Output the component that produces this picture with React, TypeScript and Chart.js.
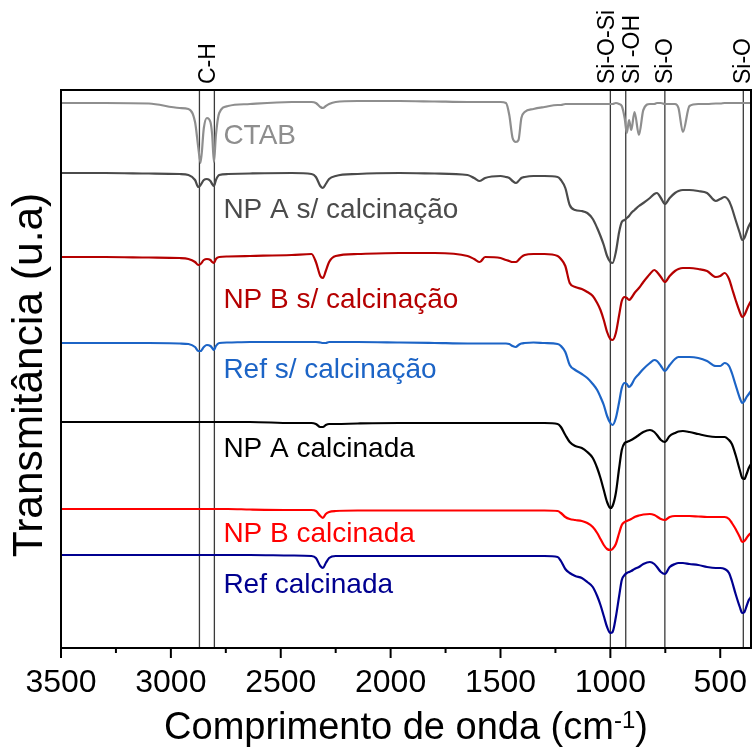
import { useEffect, useRef } from 'react';
import { Chart, registerables } from 'chart.js';
Chart.register(...registerables);

const FONT = '"Liberation Sans", Arial, sans-serif';

const wavenumbers = [3500, 3300, 3100, 2960, 2920, 2890, 2875, 2865, 2850, 2836, 2820, 2812, 2804, 2795, 2780, 2740, 2640, 2450, 2360, 2340, 2320, 2308, 2295, 2280, 2250, 2150, 1960, 1800, 1650, 1620, 1594, 1570, 1500, 1475, 1460, 1445, 1430, 1418, 1405, 1390, 1350, 1300, 1240, 1225, 1205, 1185, 1160, 1130, 1105, 1080, 1060, 1045, 1030, 1015, 1000, 990, 975, 960, 948, 935, 925, 915, 905, 890, 870, 850, 820, 800, 788, 770, 752, 730, 706, 690, 670, 640, 600, 560, 520, 500, 480, 460, 447, 430, 411, 400, 390, 380, 370, 360];

const ctab = [545, 545, 544.5, 540, 539, 526, 500, 485, 520, 530, 526, 513, 486, 513, 535, 542, 544, 546, 546, 545, 541, 540, 542, 544, 546, 547, 547, 546.5, 546, 546, 546, 546, 546, 545, 533, 510, 506, 508, 530, 536, 539, 541, 543, 543, 544, 544, 544, 544, 544, 544, 544, 544, 544, 544, 544, 544, 545, 544, 542, 530, 515, 528, 518, 536, 513, 538, 544, 544, 545, 545, 544, 544, 544, 540, 516, 542, 544, 544, 544.5, 544.5, 545, 545, 545, 545, 545, 545, 545, 545, 545, 545];
const npASemCalc = [475, 475, 474.5, 474, 473, 468, 461, 463, 468, 469, 467, 464, 462, 468, 473, 474, 474.5, 475, 474, 471, 462, 460, 464, 469, 472, 474, 475, 474.5, 473, 470, 467, 470, 472, 471, 470, 467, 465, 467, 470, 471, 472, 472, 471, 468, 460, 443, 438, 437, 435, 429, 420, 412, 403, 392, 386, 385, 396, 416, 426, 428, 430, 432, 435, 438, 442, 445, 450, 454, 455, 450, 444, 450, 455, 457, 458, 458, 457, 455, 447, 449, 451, 447, 440, 428, 415, 408, 410, 416, 422, 426];
const npBSemCalc = [391, 391, 390.5, 390, 389, 386, 383, 384, 388, 389, 388, 386, 385, 389, 391, 391.5, 392, 393, 394, 386, 372, 370, 377, 386, 392, 394, 395, 395, 392, 389, 386, 391, 390, 388, 387, 386, 386, 388, 391, 393, 394, 394, 392, 389, 382, 365, 361, 359, 356, 352, 345, 338, 328, 316, 309, 308, 315, 333, 347, 351, 350, 348, 350, 355, 360, 366, 374, 378, 376, 371, 366, 372, 377, 379, 380, 380, 379, 377, 371, 372, 375, 369, 360, 348, 336, 331, 333, 338, 343, 347];
const refSemCalc = [305, 305, 305, 304.5, 304, 301, 297, 297, 301, 303, 302, 300, 298, 302, 305, 305.5, 306, 306, 306, 306, 305.5, 305, 305, 306, 306, 306, 305.5, 305, 304.5, 304.5, 304.5, 304.5, 304.5, 304.5, 304, 302, 301, 303, 304.5, 305, 305.5, 305, 304, 302, 296, 283, 278, 274, 270, 264, 258, 251, 243, 232, 225, 223, 230, 246, 260, 265, 264, 261, 263, 269, 274, 279, 285, 288, 287, 282, 277, 283, 289, 291, 291, 291, 290, 287, 282, 282, 285, 282, 275, 263, 250, 245, 247, 251, 254, 257];
const npACalc = [226, 226, 226, 226, 226, 226, 226, 226, 226, 226, 226, 226, 226, 226, 226, 226, 226, 225, 225, 224, 221, 221, 223, 224, 224, 224.5, 225, 225, 225, 225, 225, 225, 225, 225, 225, 225, 225, 225, 225, 225, 225, 225, 224, 221, 213, 206, 202, 200, 196, 190, 180, 170, 158, 146, 140, 142, 155, 180, 198, 205, 206, 207, 208, 210, 213, 216, 218, 216, 213, 208, 206, 212, 215, 216.5, 217, 216, 214, 212, 211, 211, 211, 208, 204, 193, 178, 170, 169, 174, 180, 184];
const npBCalc = [139, 139, 139, 139, 139, 139, 139, 139, 139, 139, 139, 139, 139, 139, 139, 139, 138.5, 138, 138, 137, 132, 130, 134, 136, 137, 137.5, 137.5, 137.5, 137.5, 137.5, 137.5, 137.5, 137.5, 137.5, 137.5, 137.5, 137.5, 137.5, 137.5, 137.5, 137.5, 137.5, 137, 135, 131, 129, 128, 127, 125, 121, 115, 109, 103, 99, 98, 99, 104, 115, 123, 126, 127, 128, 129, 131, 132.5, 133.5, 134, 133, 131.5, 129, 128, 131, 132, 132, 132, 132, 131.5, 131, 131, 131, 131, 129, 125, 119, 111, 106, 107, 110, 113, 115];
const refCalc = [93, 93, 93, 93, 93, 93, 93, 93, 93, 93, 93, 93, 93, 93, 93, 93, 93, 92.5, 92, 90, 82, 80, 85, 90, 92, 92, 92, 92, 92, 92, 92, 92, 92, 92, 92, 92, 92, 92, 92, 92, 92, 92, 91, 87, 79, 75, 72, 70, 66, 61, 52, 43, 32, 21, 15, 16, 31, 52, 68, 73, 75, 76, 77, 79, 81, 84, 86, 84, 81, 76, 74, 81, 84, 85, 85, 84, 83, 81, 80, 80, 79, 75, 67, 54, 41, 35, 36, 42, 48, 51];

const seriesValues = [ctab, npASemCalc, npBSemCalc, refSemCalc, npACalc, npBCalc, refCalc];
const seriesNames = ['CTAB', 'NP A s/ calcinação', 'NP B s/ calcinação', 'Ref s/ calcinação', 'NP A calcinada', 'NP B calcinada', 'Ref calcinada'];
const seriesColors = ['#8e8e8e', '#4b4b4b', '#b50000', '#1c64c6', '#000000', '#ff0000', '#000090'];
const seriesLabelValues = [504, 430, 340, 270, 191, 106, 55];
const seriesLabelWavenumber = 2761;

const bandLines = [2870, 2802, 1000, 930, 752, 395];
const bandNames = ['C-H', 'Si-O-Si', 'Si -OH', 'Si-O', 'Si-O'];
const bandNamePositions = [2827, 1013, 900, 750, 392];

const xMajorTicks = [3500, 3000, 2500, 2000, 1500, 1000, 500];
const xMinorTicks = [3250, 2750, 2250, 1750, 1250, 750];

const decorPlugin = {
  id: 'decor',
  beforeDatasetsDraw(chart: any) {
    const { ctx, chartArea: a, scales } = chart;
    const x = scales.x;
    ctx.save();
    ctx.strokeStyle = '#3a3a3a';
    ctx.lineWidth = 1.3;
    bandLines.forEach((w) => {
      const px = x.getPixelForValue(w);
      ctx.beginPath();
      ctx.moveTo(px, a.top);
      ctx.lineTo(px, a.bottom);
      ctx.stroke();
    });
    ctx.restore();
  },
  afterDatasetsDraw(chart: any) {
    const { ctx, chartArea: a, scales } = chart;
    const x = scales.x;
    const y = scales.y;
    ctx.save();
    ctx.strokeStyle = '#000';
    ctx.lineWidth = 2;
    ctx.strokeRect(a.left, a.top, a.right - a.left, a.bottom - a.top);
    xMajorTicks.forEach((w) => {
      const px = x.getPixelForValue(w);
      ctx.beginPath();
      ctx.moveTo(px, a.bottom);
      ctx.lineTo(px, a.bottom + 10);
      ctx.stroke();
    });
    xMinorTicks.forEach((w) => {
      const px = x.getPixelForValue(w);
      ctx.beginPath();
      ctx.moveTo(px, a.bottom);
      ctx.lineTo(px, a.bottom + 5);
      ctx.stroke();
    });
    ctx.font = `28px ${FONT}`;
    ctx.textAlign = 'left';
    ctx.textBaseline = 'alphabetic';
    seriesNames.forEach((n, i) => {
      ctx.fillStyle = seriesColors[i];
      ctx.fillText(n, x.getPixelForValue(seriesLabelWavenumber), y.getPixelForValue(seriesLabelValues[i]));
    });
    ctx.fillStyle = '#000';
    ctx.font = `23px ${FONT}`;
    bandNames.forEach((n, i) => {
      const px = x.getPixelForValue(bandNamePositions[i]);
      ctx.save();
      ctx.translate(px, a.top - 6);
      ctx.rotate(-Math.PI / 2);
      ctx.textAlign = 'left';
      ctx.textBaseline = 'middle';
      ctx.fillText(n, 0, 0);
      ctx.restore();
    });
    const main = 'Comprimento de onda (cm';
    const sup = '-1';
    const end = ')';
    ctx.font = `38px ${FONT}`;
    const wMain = ctx.measureText(main).width;
    const wEnd = ctx.measureText(end).width;
    ctx.font = `24px ${FONT}`;
    const wSup = ctx.measureText(sup).width;
    const total = wMain + wSup + wEnd;
    let sx = (a.left + a.right) / 2 - total / 2;
    const by = a.bottom + 91;
    ctx.textAlign = 'left';
    ctx.textBaseline = 'alphabetic';
    ctx.font = `38px ${FONT}`;
    ctx.fillText(main, sx, by);
    sx += wMain;
    ctx.font = `24px ${FONT}`;
    ctx.fillText(sup, sx, by - 11);
    sx += wSup;
    ctx.font = `38px ${FONT}`;
    ctx.fillText(end, sx, by);
    ctx.save();
    ctx.translate(30, 375);
    ctx.rotate(-Math.PI / 2);
    ctx.textAlign = 'center';
    ctx.textBaseline = 'middle';
    ctx.font = `42.5px ${FONT}`;
    ctx.fillText('Transmitância (u.a)', 0, 0);
    ctx.restore();
    ctx.restore();
  },
};

export default function App() {
  const ref = useRef<HTMLCanvasElement | null>(null);
  useEffect(() => {
    if (!ref.current) return;
    const chart = new Chart(ref.current, {
      type: 'line',
      data: {
        datasets: seriesValues.map((vals, i) => ({
          label: seriesNames[i],
          data: wavenumbers.map((w, j) => ({ x: w, y: vals[j] })),
          borderColor: seriesColors[i],
          backgroundColor: seriesColors[i],
          borderWidth: 2.2,
          pointRadius: 0,
          cubicInterpolationMode: 'monotone' as const,
          fill: false,
        })),
      },
      options: {
        animation: false,
        responsive: false,
        devicePixelRatio: 1,
        layout: { padding: { top: 90, right: 2, left: 0, bottom: 0 } },
        plugins: { legend: { display: false }, tooltip: { enabled: false } },
        scales: {
          x: {
            type: 'linear',
            reverse: true,
            min: 360,
            max: 3500,
            grid: { display: false },
            border: { display: false },
            ticks: {
              color: '#000',
              font: { size: 32, family: FONT },
              padding: 8,
              autoSkip: false,
              maxRotation: 0,
              callback: (v: any) => String(v),
            },
            afterBuildTicks: (s: any) => {
              s.ticks = xMajorTicks.map((v) => ({ value: v }));
            },
            afterFit: (s: any) => {
              s.height = 103;
              s.paddingLeft = 0;
              s.paddingRight = 0;
            },
          },
          y: {
            type: 'linear',
            min: 0,
            max: 558,
            grid: { display: false },
            border: { display: false },
            ticks: { display: false },
            afterFit: (s: any) => {
              s.width = 61;
              s.paddingTop = 0;
              s.paddingBottom = 0;
            },
          },
        },
      },
      plugins: [decorPlugin],
    });
    return () => chart.destroy();
  }, []);
  return (
    <div style={{ position: 'fixed', left: 0, top: 0, width: 753, height: 751, background: '#fff' }}>
      <canvas ref={ref} width={753} height={751} />
    </div>
  );
}
